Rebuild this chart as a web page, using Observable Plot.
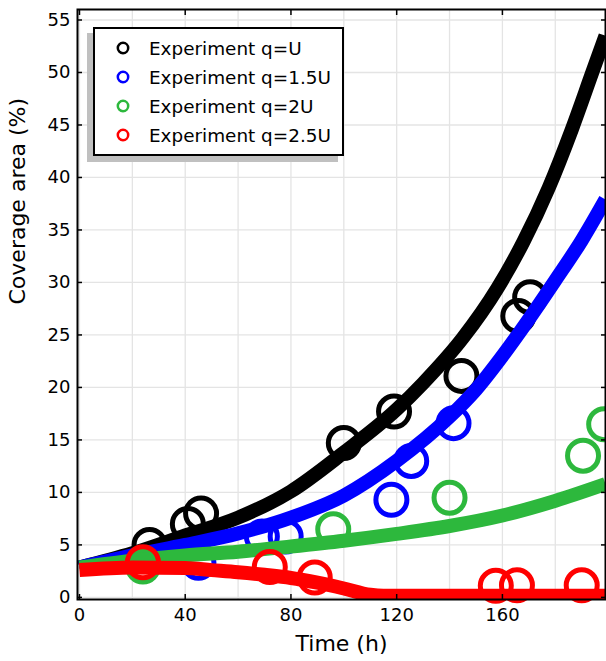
<!DOCTYPE html>
<html><head><meta charset="utf-8">
<script src="https://cdn.jsdelivr.net/npm/d3@7"></script>
<script src="https://cdn.jsdelivr.net/npm/@observablehq/plot@0.6"></script>
<style>
body{margin:0;background:#fff;font-family:"DejaVu Sans",sans-serif;}
#wrap{position:relative;width:606px;height:661px;overflow:hidden;}
#legend{position:absolute;left:93px;top:27px;width:247px;height:125px;border:2px solid #000;background:#fff;box-shadow:-6px 6px 0 0 #c0c0c0;}
.row{position:absolute;left:0;height:29px;display:flex;align-items:center;font-size:18.4px;color:#000;white-space:nowrap;}
.row svg{margin-left:21px;margin-right:19px;}
</style></head>
<body><div id="wrap"><div id="chart"></div><div id="legend"></div></div>
<script>
// Legend / series names and colours
const seriesNames = ["Experiment q=U", "Experiment q=1.5U", "Experiment q=2U", "Experiment q=2.5U"];
const seriesColors = ["#000000", "#0000ff", "#2db83d", "#ff0000"];

// Experimental points (time h, coverage %)
const expTimeU   = [26.5, 41, 46, 100, 119, 144.5, 166, 170.5];
const expCovU    = [5.0, 7.0, 8.0, 14.7, 17.7, 21.1, 26.8, 28.6];
const expTime15U = [45, 69, 78, 118, 125.5, 141.5];
const expCov15U  = [3.3, 5.8, 5.8, 9.3, 13.0, 16.6];
const expTime2U  = [24, 96, 140, 190.5, 198.5];
const expCov2U   = [2.95, 6.5, 9.5, 13.5, 16.5];
const expTime25U = [24, 72, 89, 157.5, 165.5, 190];
const expCov25U  = [3.35, 2.9, 1.9, 1.1, 1.15, 1.15];

// Model curves
const modTimeU   = [0, 20, 40, 60, 80, 100, 120, 130, 145, 158, 168, 177.5, 186.3, 194, 199];
const modCovU    = [2.85, 4.2, 5.9, 7.6, 10.1, 13.8, 17.9, 20.4, 24.7, 29.4, 33.9, 39.0, 44.6, 50, 53.5];
const modTime15U = [0, 20, 40, 60, 80, 100, 120, 140, 150, 160, 170, 180, 190, 199];
const modCov15U  = [2.85, 4.0, 5.0, 6.1, 7.6, 9.7, 13.0, 17.2, 19.8, 23.0, 26.5, 30.2, 34.0, 37.9];
const modTime2U  = [0, 20, 40, 60, 80, 100, 120, 140, 160, 180, 199];
const modCov2U   = [2.85, 3.5, 4.0, 4.35, 4.85, 5.4, 6.05, 6.8, 7.8, 9.2, 10.8];
const modTime25U = [0, 20, 40, 50, 60, 70, 80, 90, 100, 110, 115, 199];
const modCov25U  = [2.6, 2.85, 2.8, 2.6, 2.4, 2.15, 1.85, 1.4, 0.85, 0.25, 0.15, 0.15];

// Axes
const xTickValues = [0, 40, 80, 120, 160];
const xGridValues = [0, 20, 40, 60, 80, 100, 120, 140, 160, 180];
const yTickValues = [0, 5, 10, 15, 20, 25, 30, 35, 40, 45, 50, 55];
const xTitle = "Time (h)";
const yTitle = "Coverage area (%)";

const toRows = (ts, vs) => ts.map((t, i) => ({t, v: vs[i]}));
const expSets = [toRows(expTimeU, expCovU), toRows(expTime15U, expCov15U), toRows(expTime2U, expCov2U), toRows(expTime25U, expCov25U)];
const modSets = [toRows(modTimeU, modCovU), toRows(modTime15U, modCov15U), toRows(modTime2U, modCov2U), toRows(modTime25U, modCov25U)];

const marks = [
  Plot.gridX(xGridValues, {stroke: "#e4e4e4", strokeOpacity: 1, strokeWidth: 1.3}),
  Plot.gridY(yTickValues, {stroke: "#e4e4e4", strokeOpacity: 1, strokeWidth: 1.3})
];
for (let i = 0; i < 4; i++) {
  marks.push(Plot.dot(expSets[i], {x: "t", y: "v", r: 15.5, stroke: seriesColors[i], strokeWidth: 5, fill: "none"}));
  marks.push(Plot.line(modSets[i], {x: "t", y: "v", stroke: seriesColors[i], strokeWidth: 14, curve: "monotone-x", clip: true, strokeLinecap: "butt", strokeLinejoin: "round"}));
}
marks.push(
  Plot.frame({stroke: "#000", strokeWidth: 2}),
  Plot.axisY(yTickValues, {anchor: "left", tickSize: 0, tickPadding: 7, fontSize: 18, label: null}),
  Plot.axisX(xTickValues, {anchor: "bottom", tickSize: 0, tickPadding: 9, fontSize: 18, label: null}),
  Plot.axisY(yTickValues, {anchor: "left", tickSize: 5, dx: 5, tickFormat: () => "", label: null, strokeWidth: 1.5}),
  Plot.axisY(yTickValues, {anchor: "right", tickSize: 5, dx: -5, tickFormat: () => "", label: null, strokeWidth: 1.5}),
  Plot.axisX(xTickValues, {anchor: "bottom", tickSize: 5, dy: -5, tickFormat: () => "", label: null, strokeWidth: 1.5}),
  Plot.axisX(xTickValues, {anchor: "top", tickSize: 5, dy: 5, tickFormat: () => "", label: null, strokeWidth: 1.5}),
  Plot.text([xTitle], {frameAnchor: "bottom", dy: 51, fontSize: 22}),
  Plot.text([yTitle], {frameAnchor: "left", dx: -60, rotate: -90, fontSize: 22})
);

const chart = Plot.plot({
  width: 606, height: 661,
  marginLeft: 77, marginRight: 1, marginTop: 9, marginBottom: 62,
  style: {fontFamily: "DejaVu Sans", fontSize: "18px", color: "#000", background: "#fff"},
  x: {domain: [-0.75, 199], label: null},
  y: {domain: [-0.2, 56], label: null},
  marks
});
document.getElementById("chart").appendChild(chart);

const legend = document.getElementById("legend");
seriesNames.forEach((name, i) => {
  const row = document.createElement("div");
  row.className = "row";
  row.style.top = (4.8 + i * 28.9) + "px";
  row.innerHTML = `<svg width="14" height="14"><circle cx="7" cy="7" r="5.2" fill="none" stroke="${seriesColors[i]}" stroke-width="2.5"/></svg><span>${name}</span>`;
  legend.appendChild(row);
});
</script>
</body></html>
